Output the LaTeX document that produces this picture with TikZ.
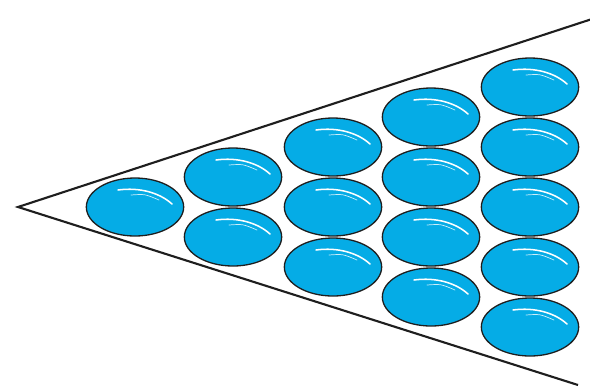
\documentclass[tikz,border=0pt]{standalone}
\usetikzlibrary{shapes.geometric,calc}
\definecolor{pillblue}{RGB}{5,172,230}
\definecolor{edge}{RGB}{30,30,30}
\begin{document}
\begin{tikzpicture}[x=0.03cm,y=-0.03cm,
    pill/.style={ellipse,draw=edge,line width=1.1pt,fill=pillblue,
      minimum width=2.92cm,minimum height=1.74cm,inner sep=0pt},
    shine/.style={white,line width=1.3pt,line cap=round}]
    \useasboundingbox (0,0) rectangle (590,386);
    % wedge
    \coordinate (apex) at (18,207);
    \coordinate (top) at (592,19);
    \coordinate (bot) at (578,385);
    \draw[edge,line width=1.8pt] (top) -- (apex) -- (bot);
    % pills, one column per step
    \foreach \c/\x in {1/135,2/233,3/333,4/431,5/530}{
      \foreach \r in {1,...,\c}{
        \node[pill] (p\c\r) at (\x,{207-30*(\c-1)+60*(\r-1)}) {};
        \draw[shine] ($(p\c\r.center)+(-17,-17)$) .. controls ($(p\c\r.center)+(5,-20)$) and ($(p\c\r.center)+(25,-14)$) .. ($(p\c\r.center)+(37,-3)$);
        \draw[shine,line width=0.6pt,white!80!pillblue] ($(p\c\r.center)+(-4,-12)$) .. controls ($(p\c\r.center)+(10,-13)$) .. ($(p\c\r.center)+(24,-7)$);
      }
    }
  \end{tikzpicture}
\end{document}
